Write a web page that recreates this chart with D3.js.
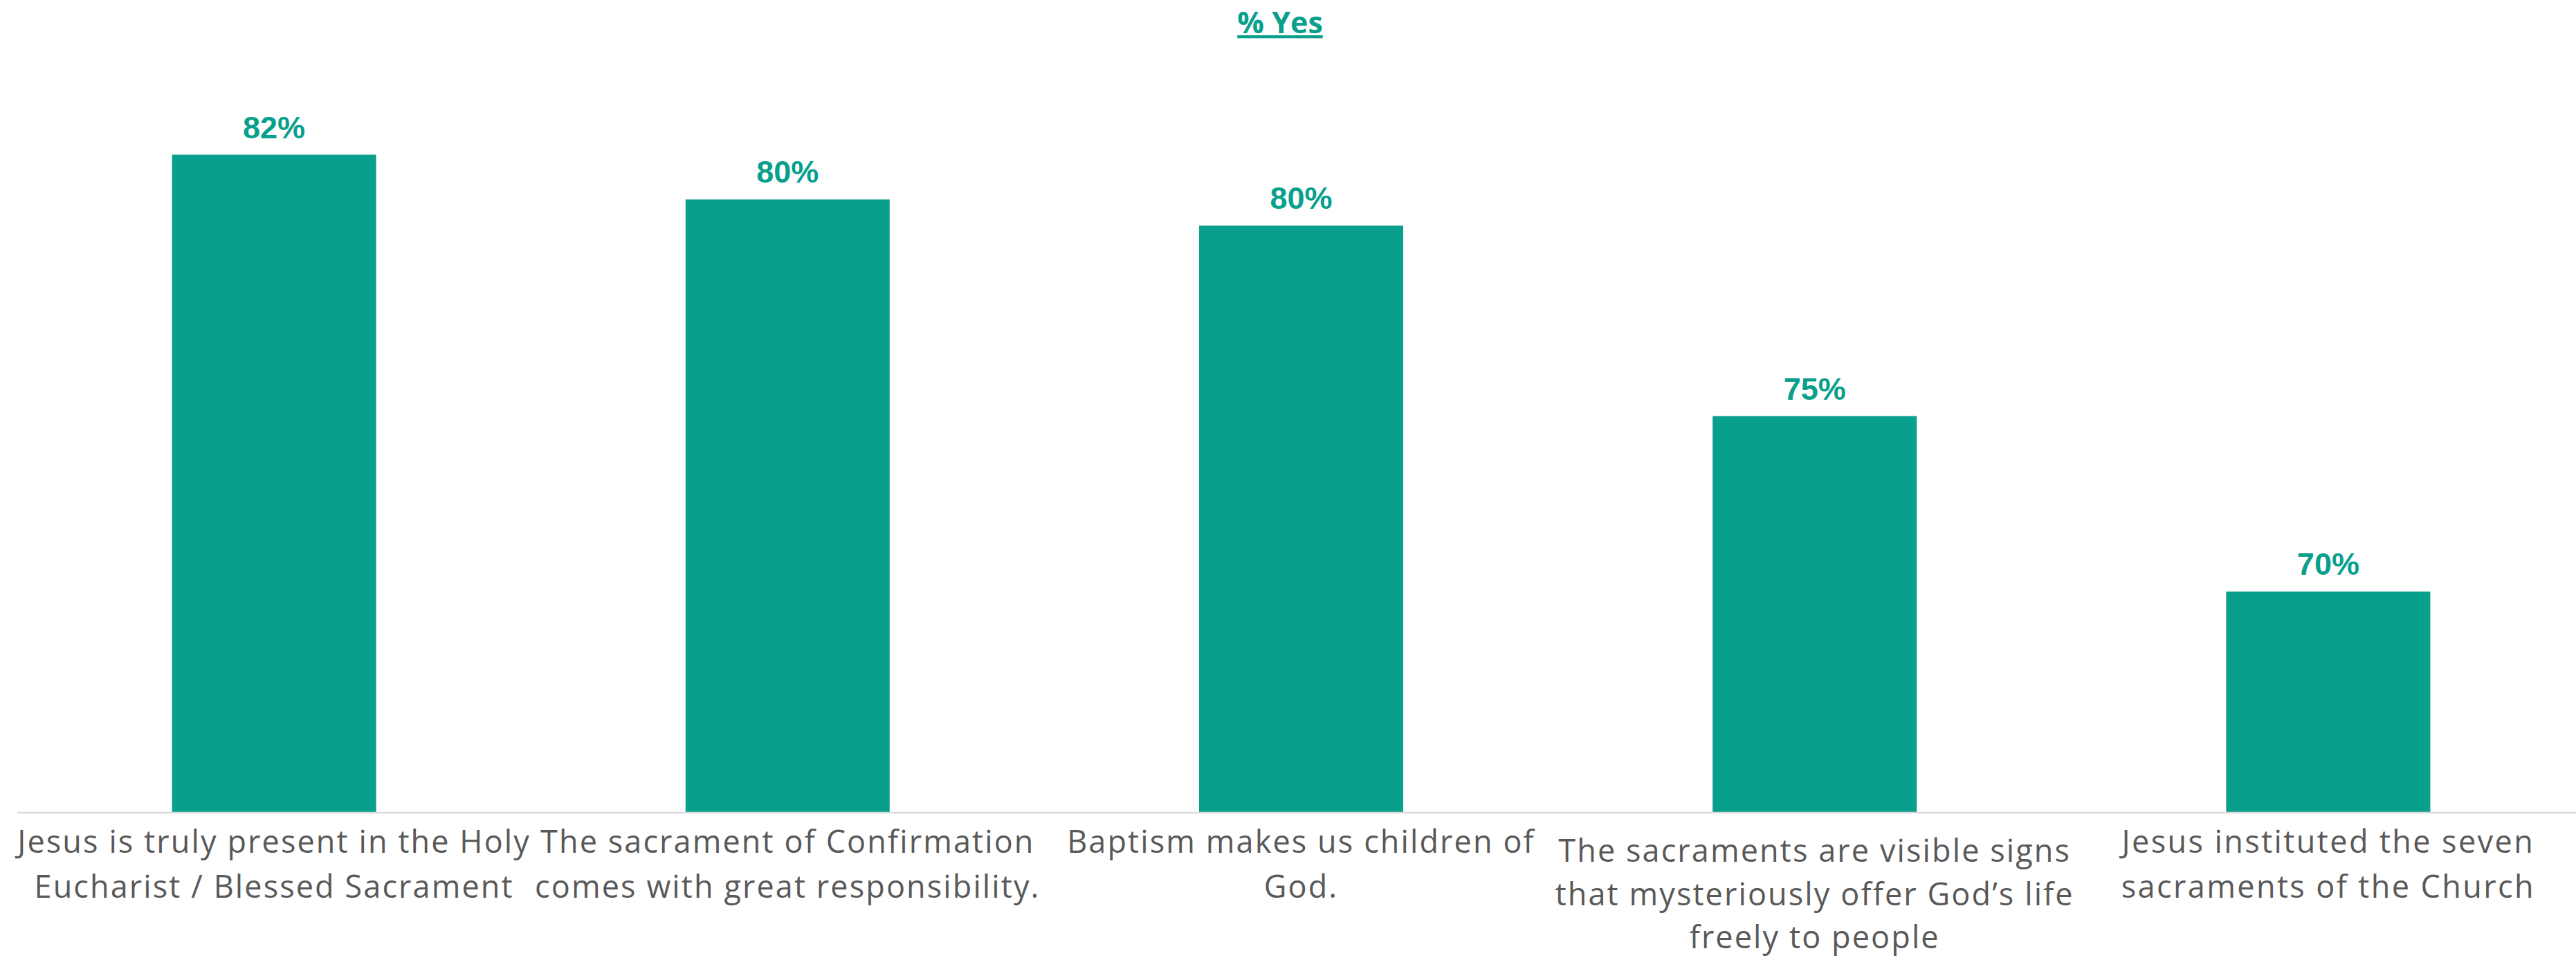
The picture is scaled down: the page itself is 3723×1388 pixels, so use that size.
<!DOCTYPE html>
<html>
<head>
<meta charset="utf-8">
<script src="https://cdn.jsdelivr.net/npm/d3@7"></script>
<style>
  html, body { margin: 0; padding: 0; background: #ffffff; }
  svg { display: block; }
</style>
</head>
<body>
<svg id="chart"></svg>
<script>
// ---- data ----
const title = "% Yes";
const categories = [
  ["Jesus is truly present in the Holy", "Eucharist / Blessed Sacrament"],
  ["The sacrament of Confirmation", "comes with great responsibility."],
  ["Baptism makes us children of", "God."],
  ["The sacraments are visible signs", "that mysteriously offer God\u2019s life", "freely to people"],
  ["Jesus instituted the seven", "sacraments of the Church"]
];
const values = [81.6, 80.4, 79.7, 74.6, 69.9];
const yDomain = [64, 85];

// ---- layout ----
const W = 3723, H = 1388;
const teal = "#089F8C";
const svg = d3.select("#chart").attr("width", W).attr("height", H);
svg.append("rect").attr("width", W).attr("height", H).attr("fill", "#ffffff");

const x = d3.scaleBand()
  .domain(d3.range(categories.length))
  .range([25, 3736])
  .paddingInner(0.6025)
  .paddingOuter(0.30125);
const y = d3.scaleLinear().domain(yDomain).range([1174, 40]);

// title
svg.append("text")
  .attr("x", 1850).attr("y", 48)
  .attr("text-anchor", "middle")
  .attr("font-family", "'Open Sans', 'Liberation Sans', sans-serif")
  .attr("font-weight", 700)
  .attr("font-size", 43)
  .attr("fill", teal)
  .attr("text-decoration", "underline")
  .text(title);

// bars
svg.append("g").selectAll("rect").data(values).join("rect")
  .attr("x", (d, i) => x(i))
  .attr("width", x.bandwidth())
  .attr("y", d => y(d))
  .attr("height", d => y(yDomain[0]) - y(d))
  .attr("fill", teal);

// value labels
const fmt = d => d3.format(".0f")(d) + "%";
svg.append("g").selectAll("text").data(values).join("text")
  .attr("x", (d, i) => x(i) + x.bandwidth() / 2)
  .attr("y", d => y(d) - 24)
  .attr("text-anchor", "middle")
  .attr("font-family", "'Liberation Sans', Arial, sans-serif")
  .attr("font-weight", 700)
  .attr("font-size", 45)
  .attr("fill", teal)
  .text(fmt);

// axis
const xAxis = d3.axisBottom(x).tickSize(0).tickFormat("");
const ax = svg.append("g").attr("transform", `translate(0,${y(yDomain[0]) + 1})`).call(xAxis);
ax.select(".domain").attr("stroke", "#d9d9d9").attr("stroke-width", 2.5)
  .attr("d", `M25,0H${W}`);

// category labels
const lab = svg.append("g");
categories.forEach((lines, i) => {
  const shift = lines.length > 2 ? 13 : 0;
  const lh = lines.length > 2 ? 62.5 : 64.5;
  const txt = lab.append("text")
    .attr("text-anchor", "middle")
    .attr("font-family", "'Open Sans', Lato, sans-serif")
    .attr("font-size", 45)
    .attr("fill", "#595959")
    .attr("letter-spacing", i === 4 ? 2.4 : 2.1);
  lines.forEach((s, j) => {
    txt.append("tspan")
      .attr("x", x(i) + x.bandwidth() / 2)
      .attr("y", 1233 + shift + j * lh)
      .text(s);
  });
});
</script>
</body>
</html>
